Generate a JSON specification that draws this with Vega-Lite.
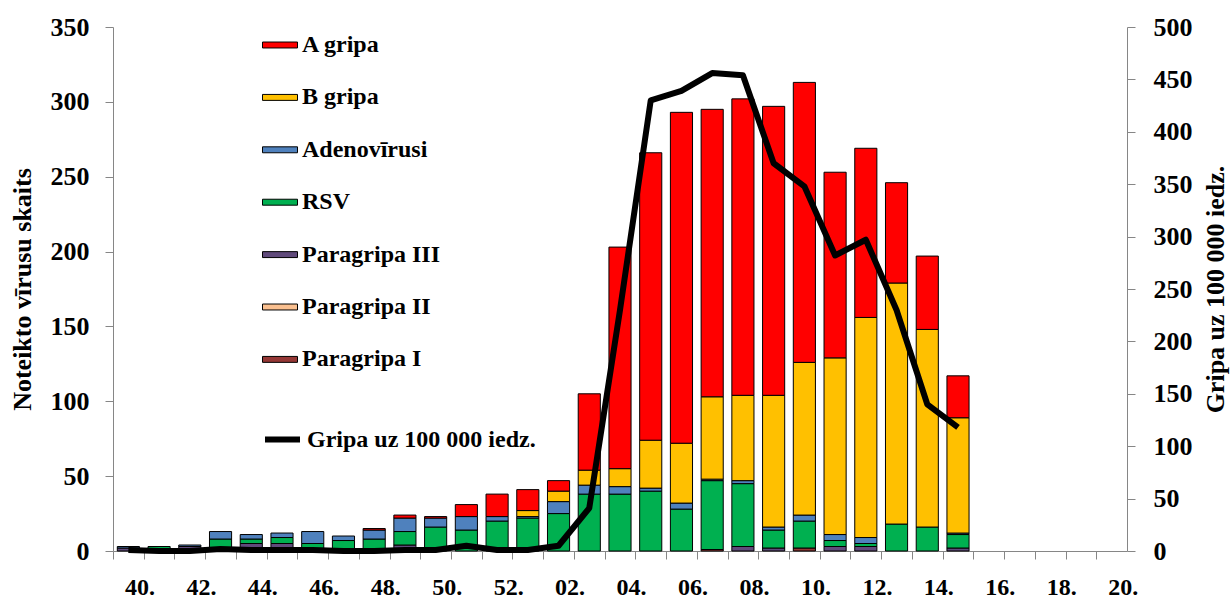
{
  "$schema": "https://vega.github.io/schema/vega-lite/v6.json",
  "width": 1014,
  "height": 524,
  "autosize": {"type": "none"},
  "padding": {"left": 113, "top": 27, "right": 104, "bottom": 48},
  "background": "white",
  "config": {
    "font": "Liberation Serif",
    "view": {"stroke": null},
    "axis": {
      "labelFont": "Liberation Serif", "labelFontWeight": "bold", "labelFontSize": 26, "labelColor": "black",
      "titleFont": "Liberation Serif", "titleFontWeight": "bold", "titleFontSize": 26, "titleColor": "black",
      "domainColor": "#868686", "tickColor": "#868686", "tickSize": 8, "grid": false
    }
  },
  "datasets": {
    "vir": [
      {"virus": "Paragripa I", "rank": 1},
      {"virus": "Paragripa II", "rank": 2},
      {"virus": "Paragripa III", "rank": 3},
      {"virus": "RSV", "rank": 4},
      {"virus": "Adenovīrusi", "rank": 5},
      {"virus": "B gripa", "rank": 6},
      {"virus": "A gripa", "rank": 7}
    ],
    "weeks": [
      {"w": "40.", "Paragripa I": 0, "Paragripa II": 0, "Paragripa III": 2, "RSV": 0, "Adenovīrusi": 1, "B gripa": 0, "A gripa": 0, "flu": 1},
      {"w": "41.", "Paragripa I": 0, "Paragripa II": 0, "Paragripa III": 0, "RSV": 3, "Adenovīrusi": 0, "B gripa": 0, "A gripa": 0, "flu": 0},
      {"w": "42.", "Paragripa I": 0, "Paragripa II": 0, "Paragripa III": 3, "RSV": 0, "Adenovīrusi": 1, "B gripa": 0, "A gripa": 0, "flu": 0},
      {"w": "43.", "Paragripa I": 0, "Paragripa II": 0, "Paragripa III": 0, "RSV": 8, "Adenovīrusi": 5, "B gripa": 0, "A gripa": 0, "flu": 2},
      {"w": "44.", "Paragripa I": 0, "Paragripa II": 0, "Paragripa III": 5, "RSV": 3, "Adenovīrusi": 3, "B gripa": 0, "A gripa": 0, "flu": 1},
      {"w": "45.", "Paragripa I": 0, "Paragripa II": 0, "Paragripa III": 5, "RSV": 4, "Adenovīrusi": 3, "B gripa": 0, "A gripa": 0, "flu": 1},
      {"w": "46.", "Paragripa I": 0, "Paragripa II": 0, "Paragripa III": 1, "RSV": 4, "Adenovīrusi": 8, "B gripa": 0, "A gripa": 0, "flu": 1},
      {"w": "47.", "Paragripa I": 0, "Paragripa II": 0, "Paragripa III": 0, "RSV": 7, "Adenovīrusi": 3, "B gripa": 0, "A gripa": 0, "flu": 0},
      {"w": "48.", "Paragripa I": 0, "Paragripa II": 0, "Paragripa III": 0, "RSV": 8, "Adenovīrusi": 6, "B gripa": 0, "A gripa": 1, "flu": 0},
      {"w": "49.", "Paragripa I": 0, "Paragripa II": 0, "Paragripa III": 4, "RSV": 9, "Adenovīrusi": 9, "B gripa": 0, "A gripa": 2, "flu": 1},
      {"w": "50.", "Paragripa I": 0, "Paragripa II": 0, "Paragripa III": 0, "RSV": 16, "Adenovīrusi": 6, "B gripa": 0, "A gripa": 1, "flu": 1},
      {"w": "51.", "Paragripa I": 0, "Paragripa II": 0, "Paragripa III": 0, "RSV": 14, "Adenovīrusi": 9, "B gripa": 0, "A gripa": 8, "flu": 5},
      {"w": "52.", "Paragripa I": 0, "Paragripa II": 0, "Paragripa III": 0, "RSV": 20, "Adenovīrusi": 3, "B gripa": 0, "A gripa": 15, "flu": 1},
      {"w": "01.", "Paragripa I": 0, "Paragripa II": 0, "Paragripa III": 0, "RSV": 22, "Adenovīrusi": 1, "B gripa": 4, "A gripa": 14, "flu": 1},
      {"w": "02.", "Paragripa I": 0, "Paragripa II": 0, "Paragripa III": 0, "RSV": 25, "Adenovīrusi": 8, "B gripa": 7, "A gripa": 7, "flu": 5},
      {"w": "03.", "Paragripa I": 0, "Paragripa II": 0, "Paragripa III": 0, "RSV": 38, "Adenovīrusi": 6, "B gripa": 10, "A gripa": 51, "flu": 41},
      {"w": "04.", "Paragripa I": 0, "Paragripa II": 0, "Paragripa III": 0, "RSV": 38, "Adenovīrusi": 5, "B gripa": 12, "A gripa": 148, "flu": 230},
      {"w": "05.", "Paragripa I": 0, "Paragripa II": 0, "Paragripa III": 0, "RSV": 40, "Adenovīrusi": 2, "B gripa": 32, "A gripa": 192, "flu": 430},
      {"w": "06.", "Paragripa I": 0, "Paragripa II": 0, "Paragripa III": 0, "RSV": 28, "Adenovīrusi": 4, "B gripa": 40, "A gripa": 221, "flu": 439},
      {"w": "07.", "Paragripa I": 1, "Paragripa II": 0, "Paragripa III": 0, "RSV": 46, "Adenovīrusi": 1, "B gripa": 55, "A gripa": 192, "flu": 456},
      {"w": "08.", "Paragripa I": 0, "Paragripa II": 0, "Paragripa III": 3, "RSV": 42, "Adenovīrusi": 2, "B gripa": 57, "A gripa": 198, "flu": 454},
      {"w": "09.", "Paragripa I": 0, "Paragripa II": 0, "Paragripa III": 2, "RSV": 12, "Adenovīrusi": 2, "B gripa": 88, "A gripa": 193, "flu": 370},
      {"w": "10.", "Paragripa I": 2, "Paragripa II": 0, "Paragripa III": 0, "RSV": 18, "Adenovīrusi": 4, "B gripa": 102, "A gripa": 187, "flu": 348},
      {"w": "11.", "Paragripa I": 0, "Paragripa II": 0, "Paragripa III": 3, "RSV": 4, "Adenovīrusi": 4, "B gripa": 118, "A gripa": 124, "flu": 282},
      {"w": "12.", "Paragripa I": 0, "Paragripa II": 0, "Paragripa III": 3, "RSV": 2, "Adenovīrusi": 4, "B gripa": 147, "A gripa": 113, "flu": 297},
      {"w": "13.", "Paragripa I": 0, "Paragripa II": 0, "Paragripa III": 0, "RSV": 18, "Adenovīrusi": 0, "B gripa": 161, "A gripa": 67, "flu": 230},
      {"w": "14.", "Paragripa I": 0, "Paragripa II": 0, "Paragripa III": 0, "RSV": 16, "Adenovīrusi": 0, "B gripa": 132, "A gripa": 49, "flu": 140},
      {"w": "15.", "Paragripa I": 0, "Paragripa II": 0, "Paragripa III": 2, "RSV": 9, "Adenovīrusi": 1, "B gripa": 77, "A gripa": 28, "flu": 118}
    ]
  },
  "data": {"name": "weeks"},
  "encoding": {
    "x": {
      "field": "w", "type": "nominal", "sort": null,
      "scale": {
        "domain": ["40.","41.","42.","43.","44.","45.","46.","47.","48.","49.","50.","51.","52.","01.","02.","03.","04.","05.","06.","07.","08.","09.","10.","11.","12.","13.","14.","15.","16.","17.","18.","19.","20."],
        "paddingInner": 0.28, "paddingOuter": 0.14
      },
      "axis": {
        "title": null, "labelAngle": 0, "labelFontSize": 24, "labelPadding": 16,
        "bandPosition": 0, "tickOffset": -4.3, "labelOffset": 15.36,
        "labelExpr": "(toNumber(slice(datum.value, 0, 2)) % 2 == 1) ? '' : datum.label"
      }
    }
  },
  "layer": [
    {
      "transform": [
        {"fold": ["Paragripa I","Paragripa II","Paragripa III","RSV","Adenovīrusi","B gripa","A gripa"], "as": ["virus","n"]},
        {"filter": "datum.n > 0"},
        {"lookup": "virus", "from": {"data": {"name": "vir"}, "key": "virus", "fields": ["rank"]}}
      ],
      "mark": {"type": "bar", "stroke": "black", "strokeWidth": 1},
      "encoding": {
        "y": {
          "field": "n", "type": "quantitative", "stack": "zero",
          "scale": {"domain": [0, 350], "nice": false},
          "axis": {"orient": "left", "values": [0,50,100,150,200,250,300,350], "title": "Noteikto vīrusu skaits", "labelPadding": 16, "titlePadding": 15}
        },
        "fill": {
          "field": "virus", "type": "nominal",
          "scale": {
            "domain": ["A gripa","B gripa","Adenovīrusi","RSV","Paragripa III","Paragripa II","Paragripa I"],
            "range": ["#FF0000","#FFC000","#4F81BD","#00B050","#604A7B","#FAC090","#953735"]
          },
          "legend": {
            "orient": "none", "legendX": 149, "legendY": 0, "title": null, "padding": 0,
            "symbolType": "M-1,-0.17L1,-0.17L1,0.17L-1,0.17Z", "symbolSize": 1225,
            "symbolStrokeColor": "black", "symbolStrokeWidth": 1,
            "labelFont": "Liberation Serif", "labelFontWeight": "bold", "labelFontSize": 24, "labelColor": "black",
            "rowPadding": 22.4, "labelOffset": 4, "labelLimit": 500
          }
        },
        "order": {"field": "rank", "type": "quantitative"}
      }
    },
    {
      "mark": {"type": "line", "strokeWidth": 6, "strokeJoin": "round"},
      "encoding": {
        "y": {
          "field": "flu", "type": "quantitative",
          "scale": {"domain": [0, 500], "nice": false},
          "axis": {"orient": "right", "values": [0,50,100,150,200,250,300,350,400,450,500], "title": "Gripa uz 100 000 iedz.", "titleAngle": 270, "labelPadding": 18, "titlePadding": 36}
        },
        "stroke": {
          "datum": "Gripa uz 100 000 iedz.", "type": "nominal",
          "scale": {"range": ["black"]},
          "legend": {
            "orient": "none", "legendX": 149, "legendY": 392, "title": null, "padding": 0,
            "symbolType": "stroke", "symbolSize": 1225, "symbolStrokeWidth": 6,
            "labelFont": "Liberation Serif", "labelFontWeight": "bold", "labelFontSize": 24, "labelColor": "black",
            "labelOffset": 4, "labelLimit": 500
          }
        }
      }
    }
  ],
  "resolve": {"scale": {"y": "independent"}}
}
